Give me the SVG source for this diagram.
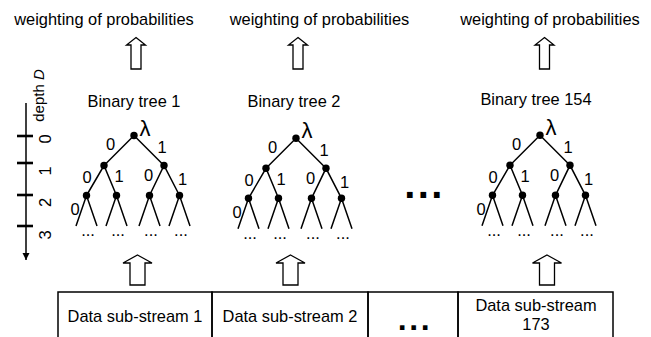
<svg xmlns="http://www.w3.org/2000/svg" width="651" height="337" viewBox="0 0 651 337">
<style>
text{font-family:"Liberation Sans",Arial,sans-serif;fill:#000}
.t{font-size:16.4px;text-anchor:middle}
.d{font-size:16.5px;text-anchor:middle}
.lam{font-size:22px}
.e{stroke:#000;stroke-width:1.5;fill:none}
.n{fill:#000}
.ar{fill:#fff;stroke:#000;stroke-width:1.3;stroke-linejoin:miter}
.box{fill:none;stroke:#000;stroke-width:1.5}
.bd{font-weight:bold;text-anchor:middle}
</style>
<defs>
<marker id="ah" viewBox="0 0 10 10" refX="10" refY="5" markerWidth="7" markerHeight="9" markerUnits="userSpaceOnUse" orient="auto">
<path d="M0,0 L10,5 L0,10 z" fill="#000"/>
</marker>
</defs>

<g id="top-labels">
<g id="label-w1"><text class="t" x="104" y="25">weighting of probabilities</text></g>
<g id="label-w2"><text class="t" x="319.5" y="25">weighting of probabilities</text></g>
<g id="label-w3"><text class="t" x="550" y="25">weighting of probabilities</text></g>
</g>

<g id="depth-axis">
<line x1="26" y1="103" x2="26" y2="260" stroke="#000" stroke-width="1.5" marker-end="url(#ah)"/>
<g stroke="#000" stroke-width="2.6">
<line x1="17" y1="136" x2="33" y2="136"/>
<line x1="17" y1="163" x2="33" y2="163"/>
<line x1="17" y1="195" x2="33" y2="195"/>
<line x1="17" y1="226" x2="33" y2="226"/>
</g>
<text transform="translate(44,95.5) rotate(-90)" font-size="15" text-anchor="middle">depth <tspan font-style="italic">D</tspan></text>
<text class="d" transform="translate(51,139) rotate(-90)">0</text>
<text class="d" transform="translate(51,171) rotate(-90)">1</text>
<text class="d" transform="translate(51,202.5) rotate(-90)">2</text>
<text class="d" transform="translate(51,235) rotate(-90)">3</text>
</g>

<g id="tree1" transform="translate(134,135.5)">
<text class="t" x="0" y="-28.5">Binary tree 1</text>
<path class="e" d="M-30,30 L0,0 L30,30 M-47.5,60 L-30,30 L-17.5,60 M15.5,60 L30,30 L45.5,60 M-58,90.5 L-47.5,60 L-37,90.5 M-28,90.5 L-17.5,60 L-7,90.5 M5,90.5 L15.5,60 L26,90.5 M35,90.5 L45.5,60 L56,90.5"/>
<circle class="n" cx="0" cy="0" r="3.7"/>
<circle class="n" cx="-30" cy="30" r="3.7"/><circle class="n" cx="30" cy="30" r="3.7"/>
<circle class="n" cx="-47.5" cy="60" r="3.7"/><circle class="n" cx="-17.5" cy="60" r="3.7"/><circle class="n" cx="15.5" cy="60" r="3.7"/><circle class="n" cx="45.5" cy="60" r="3.7"/>
<text class="lam" x="5.5" y="0">λ</text>
<text class="d" x="-23.5" y="14.5">0</text><text class="d" x="28" y="17.5">1</text>
<text class="d" x="-47" y="47.5">0</text><text class="d" x="-15" y="46.5">1</text><text class="d" x="14.5" y="45.5">0</text><text class="d" x="48.5" y="49.5">1</text>
<text class="d" x="-59" y="79.5">0</text>
<text class="d" x="-46" y="100.5">...</text><text class="d" x="-16" y="100.5">...</text><text class="d" x="17" y="100.5">...</text><text class="d" x="47" y="100.5">...</text>
</g>

<g id="tree2" transform="translate(296,138.3)">
<text class="t" x="-2" y="-31.3">Binary tree 2</text>
<path class="e" d="M-30,30 L0,0 L30,30 M-47.5,60 L-30,30 L-17.5,60 M15.5,60 L30,30 L45.5,60 M-58,90.5 L-47.5,60 L-37,90.5 M-28,90.5 L-17.5,60 L-7,90.5 M5,90.5 L15.5,60 L26,90.5 M35,90.5 L45.5,60 L56,90.5"/>
<circle class="n" cx="0" cy="0" r="3.7"/>
<circle class="n" cx="-30" cy="30" r="3.7"/><circle class="n" cx="30" cy="30" r="3.7"/>
<circle class="n" cx="-47.5" cy="60" r="3.7"/><circle class="n" cx="-17.5" cy="60" r="3.7"/><circle class="n" cx="15.5" cy="60" r="3.7"/><circle class="n" cx="45.5" cy="60" r="3.7"/>
<text class="lam" x="5.5" y="0">λ</text>
<text class="d" x="-23.5" y="14.5">0</text><text class="d" x="28" y="17.5">1</text>
<text class="d" x="-47" y="47.5">0</text><text class="d" x="-15" y="46.5">1</text><text class="d" x="14.5" y="45.5">0</text><text class="d" x="48.5" y="49.5">1</text>
<text class="d" x="-59" y="79.5">0</text>
<text class="d" x="-46" y="100.5">...</text><text class="d" x="-16" y="100.5">...</text><text class="d" x="17" y="100.5">...</text><text class="d" x="47" y="100.5">...</text>
</g>

<g id="tree-gap"><text class="bd" x="424.5" y="197.5" font-size="40" letter-spacing="2.4">...</text></g>

<g id="tree154" transform="translate(540,135.3)">
<text class="t" x="-4" y="-30.3">Binary tree 154</text>
<path class="e" d="M-30,30 L0,0 L30,30 M-47.5,60 L-30,30 L-17.5,60 M15.5,60 L30,30 L45.5,60 M-58,90.5 L-47.5,60 L-37,90.5 M-28,90.5 L-17.5,60 L-7,90.5 M5,90.5 L15.5,60 L26,90.5 M35,90.5 L45.5,60 L56,90.5"/>
<circle class="n" cx="0" cy="0" r="3.7"/>
<circle class="n" cx="-30" cy="30" r="3.7"/><circle class="n" cx="30" cy="30" r="3.7"/>
<circle class="n" cx="-47.5" cy="60" r="3.7"/><circle class="n" cx="-17.5" cy="60" r="3.7"/><circle class="n" cx="15.5" cy="60" r="3.7"/><circle class="n" cx="45.5" cy="60" r="3.7"/>
<text class="lam" x="5.5" y="0">λ</text>
<text class="d" x="-23.5" y="14.5">0</text><text class="d" x="28" y="17.5">1</text>
<text class="d" x="-47" y="47.5">0</text><text class="d" x="-15" y="46.5">1</text><text class="d" x="14.5" y="45.5">0</text><text class="d" x="48.5" y="49.5">1</text>
<text class="d" x="-59" y="79.5">0</text>
<text class="d" x="-46" y="100.5">...</text><text class="d" x="-16" y="100.5">...</text><text class="d" x="17" y="100.5">...</text><text class="d" x="47" y="100.5">...</text>
</g>

<g id="connectors">
<polygon class="ar" points="136,37.5 145.5,45 141,45 141,69 131,69 131,45 126.5,45"/>
<polygon class="ar" points="298,37.5 307.5,45 303,45 303,69 293,69 293,45 288.5,45"/>
<polygon class="ar" points="544.5,37.5 554,45 549.5,45 549.5,69 539.5,69 539.5,45 535,45"/>
<polygon class="ar" points="137.5,255 152,263 145,263 145,285 130,285 130,263 123,263"/>
<polygon class="ar" points="290.5,255 305,263 298,263 298,285 283,285 283,263 276,263"/>
<polygon class="ar" points="547,255 561.5,263 554.5,263 554.5,285 539.5,285 539.5,263 532.5,263"/>
</g>

<g id="substreams">
<g id="cell1"><rect class="box" x="58" y="292" width="154" height="60"/><text class="t" x="135" y="322">Data sub-stream 1</text></g>
<g id="cell2"><rect class="box" x="212" y="292" width="156" height="60"/><text class="t" x="290" y="322">Data sub-stream 2</text></g>
<g id="cell-gap"><rect class="box" x="368" y="292" width="90" height="60"/><text class="bd" x="415" y="330" font-size="32" letter-spacing="2.6">...</text></g>
<g id="cell173"><rect class="box" x="458" y="292" width="155" height="60"/><text class="t" x="536" y="310.5">Data sub-stream</text><text class="t" x="536" y="329.5">173</text></g>
</g>
</svg>
